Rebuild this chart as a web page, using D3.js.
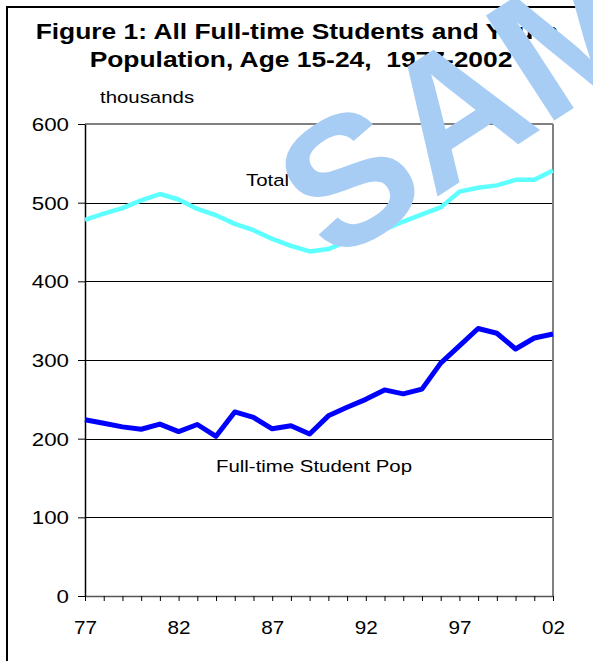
<!DOCTYPE html>
<html>
<head>
<meta charset="utf-8">
<script src="https://cdn.jsdelivr.net/npm/d3@7"></script>
<style>
  html, body { margin: 0; padding: 0; background: #fff; }
  svg { display: block; }
  text { font-family: Arial, "Liberation Sans", sans-serif; white-space: pre; }
</style>
</head>
<body>
<svg id="chart" width="593" height="661"></svg>
<script>
const years = ["77","78","79","80","81","82","83","84","85","86","87","88","89",
               "90","91","92","93","94","95","96","97","98","99","00","01","02"];
const tickYears = ["77","82","87","92","97","02"];
const youthPop = [478, 486, 493, 503, 511, 504, 492, 484, 473, 465, 454, 445, 438,
                  441, 451, 459, 466, 476, 485, 494, 514, 519, 522, 529, 529, 541];
const studentPop = [224, 219.5, 215, 212, 218.5, 209, 218, 203, 234, 227, 212.5, 216.5, 206,
                    229, 240, 250, 262, 257, 263, 296, 318, 340, 334, 314, 328, 333];
const yTicks = [0, 100, 200, 300, 400, 500, 600];
const titleLines = ["Figure 1: All Full-time Students and Youth", "Population, Age 15-24,  1977-2002"];
const unitLabel = "thousands";
const youthLabel = "Total Youth";
const studentLabel = "Full-time Student Pop";
const watermark = "SAMPLE";

const svg = d3.select("#chart");
const pLeft = 85, pRight = 553, pTop = 124, pBottom = 596;
const sx = 1.2;

const x = d3.scalePoint().domain(years).range([pLeft, pRight]);
const y = d3.scaleLinear().domain([0, 600]).range([pBottom, pTop]);

// outer frame
svg.append("rect").attr("x", 7).attr("y", 7).attr("width", 700).attr("height", 800)
  .attr("fill", "none").attr("stroke", "#000").attr("stroke-width", 2);

// title
titleLines.forEach((t, i) => {
  svg.append("text")
    .attr("transform", `translate(${i === 0 ? 297 : 301},${i === 0 ? 39 : 67}) scale(${sx},1)`)
    .attr("text-anchor", "middle").attr("font-weight", "bold").attr("font-size", 22)
    .attr("fill", "#000").text(t);
});

// units
svg.append("text").attr("transform", `translate(100,103) scale(${sx},1)`)
  .attr("font-size", 17).attr("fill", "#000").text(unitLabel);

// gridlines
svg.append("g").selectAll("line").data(yTicks.filter(d => d > 0 && d < 600)).join("line")
  .attr("x1", pLeft).attr("x2", pRight).attr("y1", d => Math.round(y(d)) + 0.5).attr("y2", d => Math.round(y(d)) + 0.5)
  .attr("stroke", "#000").attr("stroke-width", 1);

// top & right border (grey)
svg.append("line").attr("x1", pLeft).attr("x2", pRight).attr("y1", pTop).attr("y2", pTop)
  .attr("stroke", "#808080").attr("stroke-width", 2);
svg.append("line").attr("x1", pRight).attr("x2", pRight).attr("y1", pTop).attr("y2", pBottom)
  .attr("stroke", "#808080").attr("stroke-width", 2);

// y axis
const yAxis = svg.append("g").attr("transform", `translate(${pLeft},0)`)
  .call(d3.axisLeft(y).tickValues(yTicks).tickSize(7).tickPadding(0).tickSizeOuter(0));
yAxis.select(".domain").attr("stroke", "#000").attr("stroke-width", 1.5);
yAxis.selectAll(".tick line").attr("stroke", "#000");
yAxis.selectAll(".tick text")
  .attr("x", null).attr("dy", null)
  .attr("transform", `translate(-16,6.5) scale(1.24,1)`)
  .attr("font-size", 18).attr("fill", "#000");

// x axis
const xAxis = svg.append("g").attr("transform", `translate(0,${pBottom})`)
  .call(d3.axisBottom(x).tickSize(5).tickSizeOuter(0)
        .tickFormat(d => tickYears.includes(d) ? d : ""));
xAxis.select(".domain").attr("stroke", "#555").attr("stroke-width", 1.5);
xAxis.selectAll(".tick line").attr("stroke", "#000");
xAxis.selectAll(".tick text")
  .attr("y", null).attr("dy", null)
  .attr("transform", `translate(0,38) scale(1.15,1)`)
  .attr("font-size", 18).attr("fill", "#000");
svg.selectAll("g").attr("font-family", null).attr("font-size", null);

// lines
const line = d3.line().x((d, i) => x(years[i])).y(d => y(d));
svg.append("path").datum(youthPop).attr("d", line)
  .attr("fill", "none").attr("stroke", "#5EFFFF").attr("stroke-width", 4.5)
  .attr("stroke-linejoin", "round");
svg.append("path").datum(studentPop).attr("d", line)
  .attr("fill", "none").attr("stroke", "#0000FF").attr("stroke-width", 5)
  .attr("stroke-linejoin", "round");

// series labels
svg.append("text").attr("transform", `translate(246,186) scale(${sx},1)`)
  .attr("font-size", 17).attr("fill", "#000").text(youthLabel);
svg.append("text").attr("transform", `translate(216,472) scale(${sx},1)`)
  .attr("font-size", 17).attr("fill", "#000").text(studentLabel);

// watermark
svg.append("text").attr("transform", "translate(332,265) rotate(-33)")
  .attr("font-size", 182).attr("font-weight", "bold").attr("fill", "#A7CDF5")
  .text(watermark);
</script>
</body>
</html>
